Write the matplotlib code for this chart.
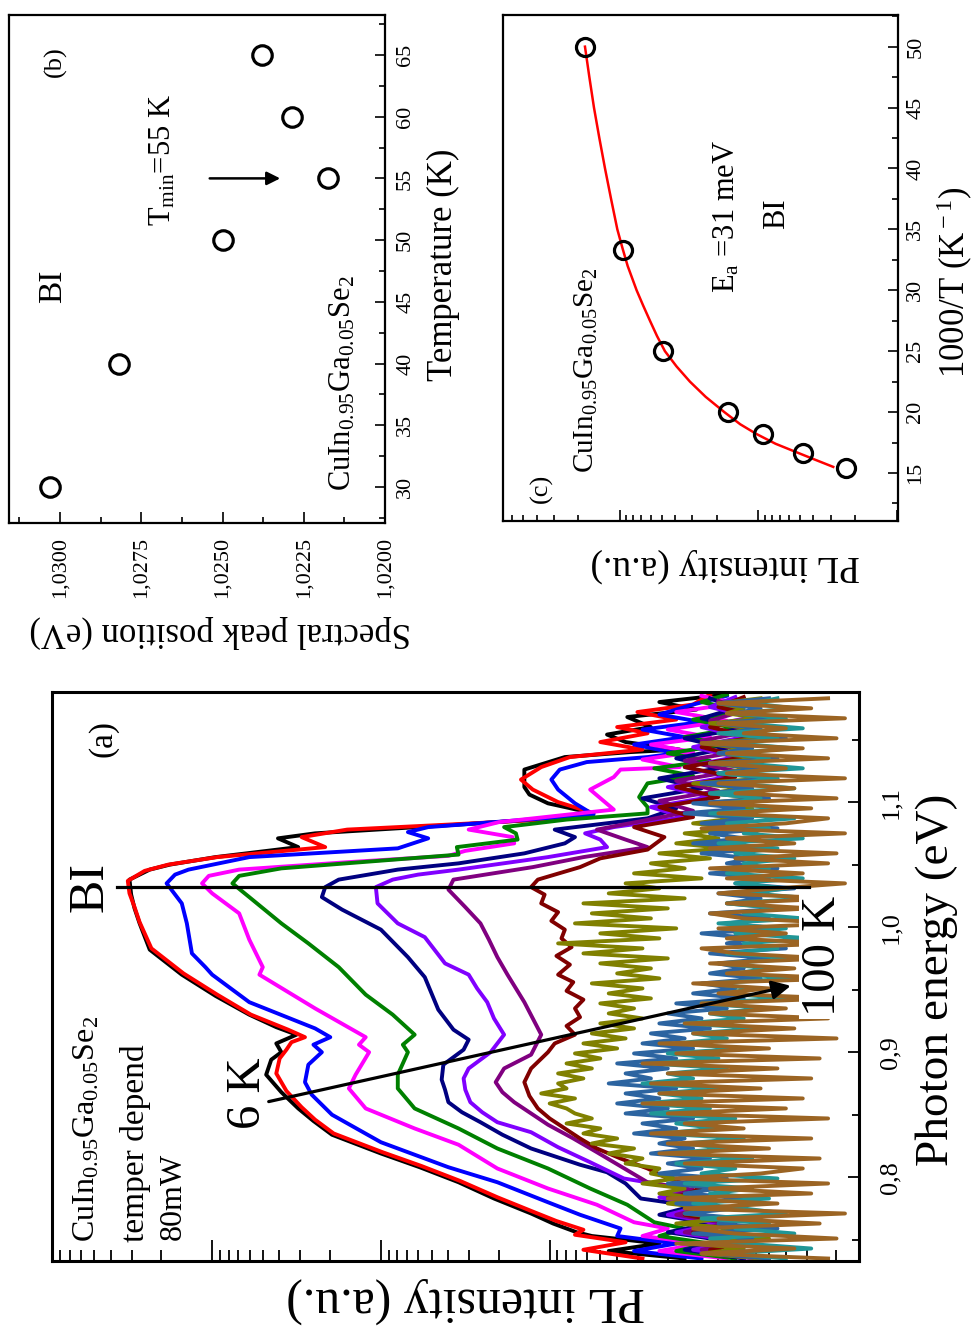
import numpy as np
import matplotlib
matplotlib.use("Agg")
import matplotlib.pyplot as plt
from matplotlib.ticker import LogLocator, NullFormatter

plt.rcParams['font.family'] = ['Liberation Serif', 'DejaVu Serif']
plt.rcParams['mathtext.fontset'] = 'custom'
plt.rcParams['mathtext.rm'] = 'Liberation Serif'
plt.rcParams['mathtext.it'] = 'Liberation Serif:italic'
plt.rcParams['mathtext.bf'] = 'Liberation Serif:bold'

# ---------------- data: panel (a), PL spectra (log10 of intensity) ----------------
e_6 = [0.735, 0.741, 0.747, 0.753, 0.756, 0.763, 0.771, 0.783, 0.796, 0.808, 0.819, 0.834, 0.845,
       0.855, 0.868, 0.882, 0.894, 0.900, 0.907, 0.914, 0.920, 0.930, 0.945, 0.962, 0.982, 1.003,
       1.015, 1.026, 1.038, 1.046, 1.050, 1.056, 1.064, 1.071, 1.075, 1.082, 1.088, 1.091, 1.099,
       1.106, 1.112, 1.126, 1.136, 1.140, 1.142, 1.148, 1.154, 1.160, 1.168, 1.174, 1.180, 1.186]
lg_6 = [1.20, 1.65, 1.35, 1.75, 1.84, 1.98, 2.11, 2.33, 2.54, 2.77, 3.00, 3.29, 3.40,
        3.49, 3.59, 3.68, 3.65, 3.59, 3.62, 3.50, 3.62, 3.78, 3.98, 4.18, 4.37, 4.43,
        4.46, 4.48, 4.49, 4.37, 4.25, 3.98, 3.49, 3.61, 3.39, 2.54, 1.85, 1.74, 2.01,
        2.12, 2.15, 2.15, 1.91, 1.52, 1.23, 1.55, 1.66, 1.40, 1.54, 1.13, 1.35, 0.95]

e_10 = [0.735, 0.742, 0.748, 0.754, 0.758, 0.765, 0.772, 0.784, 0.797, 0.809, 0.820, 0.835, 0.846,
        0.856, 0.869, 0.883, 0.895, 0.902, 0.908, 0.912, 0.918, 0.930, 0.946, 0.963, 0.983, 1.004,
        1.016, 1.027, 1.037, 1.045, 1.050, 1.056, 1.064, 1.072, 1.078, 1.082, 1.087, 1.092, 1.100,
        1.110, 1.118, 1.128, 1.136, 1.142, 1.148, 1.155, 1.160, 1.166, 1.172, 1.178, 1.186]
lg_10 = [1.45, 1.80, 1.55, 1.85, 1.80, 1.96, 2.09, 2.31, 2.53, 2.76, 2.99, 3.28, 3.39,
         3.47, 3.56, 3.62, 3.60, 3.56, 3.53, 3.45, 3.55, 3.77, 3.97, 4.17, 4.36, 4.43,
         4.46, 4.49, 4.50, 4.40, 4.26, 3.97, 3.33, 3.47, 3.20, 2.60, 1.90, 1.76, 1.95,
         2.10, 2.17, 2.05, 1.88, 1.45, 1.70, 1.42, 1.60, 1.25, 1.48, 1.15, 1.05]

e_15 = [0.735, 0.741, 0.747, 0.753, 0.759, 0.770, 0.780, 0.796, 0.808, 0.828, 0.850, 0.866, 0.876,
        0.890, 0.900, 0.906, 0.912, 0.919, 0.940, 0.962, 0.968, 0.979, 1.003, 1.019, 1.035, 1.042,
        1.046, 1.056, 1.063, 1.071, 1.076, 1.080, 1.090, 1.099, 1.110, 1.118, 1.126, 1.132, 1.136,
        1.139, 1.146, 1.152, 1.158, 1.164, 1.170, 1.178, 1.185]
lg_15 = [1.10, 1.50, 1.25, 1.60, 1.58, 1.82, 2.01, 2.31, 2.60, 3.00, 3.29, 3.41, 3.45,
         3.43, 3.35, 3.40, 3.30, 3.39, 3.78, 4.00, 4.04, 4.12, 4.15, 4.18, 4.27, 4.22,
         4.14, 3.78, 2.90, 2.72, 2.84, 2.72, 1.74, 1.85, 1.95, 1.99, 1.94, 1.78, 1.42,
         1.25, 1.50, 1.20, 1.45, 1.10, 1.35, 1.15, 0.95]

e_20 = [0.735, 0.741, 0.747, 0.753, 0.759, 0.764, 0.778, 0.791, 0.807, 0.826, 0.839, 0.855, 0.871,
        0.882, 0.900, 0.906, 0.912, 0.935, 0.962, 0.968, 0.990, 1.011, 1.027, 1.035, 1.041, 1.046,
        1.052, 1.057, 1.061, 1.067, 1.072, 1.078, 1.084, 1.094, 1.110, 1.120, 1.126, 1.128, 1.134,
        1.140, 1.146, 1.152, 1.158, 1.165, 1.172, 1.179, 1.185]
lg_20 = [0.95, 1.35, 1.10, 1.45, 1.30, 1.50, 1.72, 2.01, 2.31, 2.54, 2.80, 3.09, 3.19,
         3.15, 3.07, 3.13, 3.09, 3.39, 3.72, 3.70, 3.78, 3.84, 4.00, 4.06, 4.02, 3.84,
         3.19, 2.60, 2.50, 2.21, 2.22, 2.48, 2.30, 1.62, 1.76, 1.62, 1.58, 1.23, 1.45,
         1.15, 1.40, 1.05, 1.30, 0.95, 1.25, 0.90, 1.10]

e_25 = [0.735, 0.741, 0.747, 0.753, 0.759, 0.764, 0.778, 0.791, 0.807, 0.823, 0.839, 0.855, 0.871,
        0.882, 0.900, 0.906, 0.914, 0.930, 0.946, 0.968, 0.987, 1.003, 1.024, 1.035, 1.041, 1.047,
        1.058, 1.064, 1.070, 1.075, 1.080, 1.086, 1.091, 1.096, 1.104, 1.115, 1.121, 1.127, 1.133,
        1.139, 1.146, 1.152, 1.159, 1.166, 1.173, 1.180, 1.186]
lg_25 = [0.90, 1.25, 1.05, 1.35, 1.20, 1.38, 1.54, 1.76, 2.01, 2.31, 2.54, 2.80, 2.90,
         2.90, 2.84, 2.87, 2.80, 2.93, 3.09, 3.25, 3.43, 3.59, 3.78, 3.88, 3.84, 3.59,
         2.54, 2.55, 2.19, 2.20, 2.27, 1.90, 1.42, 1.42, 1.47, 1.42, 1.15, 1.38, 1.05,
         1.30, 0.95, 1.20, 0.90, 1.15, 0.85, 1.10, 0.95]

e_30 = [0.735, 0.742, 0.749, 0.756, 0.763, 0.770, 0.777, 0.783, 0.795, 0.804, 0.810, 0.823, 0.834,
        0.844, 0.852, 0.860, 0.870, 0.878, 0.890, 0.902, 0.910, 0.918, 0.934, 0.947, 0.960, 0.976,
        0.998, 1.014, 1.024, 1.032, 1.038, 1.046, 1.051, 1.059, 1.067, 1.072, 1.078, 1.087, 1.095,
        1.103, 1.111, 1.119, 1.127, 1.135, 1.143, 1.151, 1.159, 1.167, 1.175, 1.183]
lg_30 = [0.85, 1.20, 0.95, 1.30, 1.05, 1.35, 1.15, 1.46, 1.55, 1.66, 1.82, 2.11, 2.28,
         2.41, 2.52, 2.60, 2.62, 2.64, 2.63, 2.51, 2.48, 2.57, 2.66, 2.70, 2.74, 2.84,
         3.00, 3.23, 3.35, 3.33, 3.25, 2.90, 2.54, 2.15, 1.91, 1.85, 1.97, 1.42, 1.25,
         1.45, 1.10, 1.35, 1.00, 1.25, 0.95, 1.20, 0.85, 1.10, 0.90, 1.05]

e_40 = [0.735, 0.742, 0.749, 0.756, 0.763, 0.770, 0.777, 0.784, 0.791, 0.799, 0.812, 0.824, 0.836,
        0.844, 0.852, 0.860, 0.870, 0.879, 0.887, 0.900, 0.914, 0.927, 0.940, 0.951, 0.962, 0.971,
        0.992, 1.003, 1.019, 1.032, 1.038, 1.042, 1.046, 1.056, 1.064, 1.070, 1.075, 1.080, 1.088,
        1.096, 1.104, 1.112, 1.120, 1.128, 1.136, 1.144, 1.152, 1.160, 1.168, 1.176, 1.184]
lg_40 = [0.80, 1.15, 0.90, 1.25, 1.00, 1.30, 1.10, 1.35, 1.20, 1.56, 1.76, 1.95, 2.11,
         2.31, 2.40, 2.47, 2.50, 2.51, 2.48, 2.35, 2.27, 2.33, 2.37, 2.43, 2.48, 2.62,
         2.74, 2.90, 3.02, 3.03, 2.93, 2.78, 2.54, 2.01, 1.66, 1.70, 1.79, 1.62, 1.20,
         1.40, 1.05, 1.30, 0.95, 1.20, 0.90, 1.15, 0.85, 1.10, 0.80, 1.05, 0.90]

e_50 = [0.735, 0.742, 0.749, 0.756, 0.763, 0.770, 0.777, 0.784, 0.790, 0.796, 0.808, 0.820, 0.831,
        0.842, 0.851, 0.860, 0.868, 0.876, 0.887, 0.898, 0.906, 0.914, 0.927, 0.940, 0.951, 0.962,
        0.976, 0.990, 1.003, 1.016, 1.030, 1.038, 1.048, 1.056, 1.064, 1.070, 1.078, 1.085, 1.093,
        1.101, 1.109, 1.117, 1.125, 1.133, 1.141, 1.149, 1.157, 1.165, 1.173, 1.181]
lg_50 = [0.75, 1.10, 0.85, 1.20, 0.95, 1.25, 1.05, 1.30, 1.15, 1.42, 1.57, 1.72, 1.86,
         2.01, 2.11, 2.21, 2.28, 2.32, 2.27, 2.11, 2.08, 2.05, 2.10, 2.15, 2.20, 2.25,
         2.31, 2.36, 2.41, 2.50, 2.60, 2.57, 2.10, 1.80, 1.42, 1.55, 1.72, 1.45, 1.15,
         1.35, 1.00, 1.25, 0.90, 1.20, 0.85, 1.10, 0.80, 1.05, 0.85, 1.00]

e_55 = [0.735, 0.742, 0.749, 0.756, 0.763, 0.770, 0.777, 0.784, 0.791, 0.799, 0.807, 0.815, 0.823,
        0.831, 0.839, 0.847, 0.855, 0.865, 0.876, 0.887, 0.900, 0.907, 0.914, 0.921, 0.928, 0.935,
        0.942, 0.949, 0.956, 0.962, 0.970, 0.977, 0.984, 0.991, 0.998, 1.005, 1.012, 1.019, 1.026,
        1.032, 1.038, 1.048, 1.055, 1.062, 1.072, 1.080, 1.088, 1.096, 1.104, 1.112, 1.120, 1.128,
        1.136, 1.144, 1.152, 1.160, 1.168, 1.176, 1.184]
lg_55 = [0.70, 1.05, 0.80, 1.15, 0.90, 1.20, 1.00, 1.25, 1.10, 1.30, 1.42, 1.58, 1.72,
         1.82, 1.91, 2.00, 2.07, 2.12, 2.15, 2.11, 2.01, 1.97, 1.85, 1.90, 1.82, 1.85,
         1.80, 1.90, 1.86, 1.95, 1.88, 1.96, 1.87, 1.93, 1.91, 1.99, 1.95, 2.05, 2.03,
         2.11, 2.07, 1.82, 1.70, 1.42, 1.32, 1.50, 1.15, 1.35, 1.00, 1.25, 0.90, 1.20,
         0.85, 1.10, 0.80, 1.05, 0.75, 1.00, 0.85]

# noisy high temperature spectra on the detector grid (0.735 ... 1.183 eV, step 4 meV)
e_grid = np.round(np.arange(0.735, 1.1831, 0.004), 3)
lg_60 = [0.75, 1.10, 0.85, 1.15, 0.70, 1.05, 0.90, 1.25, 0.95, 1.20,
         1.05, 1.30, 1.10, 1.35, 1.20, 1.45, 1.25, 1.40, 1.35, 1.55,
         1.45, 1.65, 1.50, 1.75, 1.60, 1.80, 1.70, 1.90, 1.75, 1.85,
         1.90, 2.00, 1.85, 2.05, 1.90, 1.95, 1.80, 1.95, 1.75, 1.90,
         1.70, 1.85, 1.60, 1.80, 1.55, 1.75, 1.50, 1.70, 1.45, 1.65,
         1.50, 1.70, 1.40, 1.65, 1.45, 1.75, 1.35, 1.60, 1.40, 1.70,
         1.30, 1.80, 1.45, 1.95, 1.35, 1.70, 1.25, 1.85, 1.40, 1.75,
         1.30, 1.80, 1.20, 1.65, 1.35, 1.55, 1.10, 1.50, 1.20, 1.40,
         1.05, 1.35, 0.95, 1.25, 1.00, 1.20, 0.85, 1.15, 0.90, 1.10,
         0.80, 1.10, 0.75, 1.05, 0.85, 1.15, 0.70, 1.00, 0.80, 1.05,
         0.75, 1.00, 0.85, 1.10, 0.70, 0.95, 0.80, 1.05, 0.75, 0.95,
         0.85, 1.00, 0.75]
lg_70 = [0.70, 1.05, 0.55, 0.95, 0.80, 1.15, 0.65, 1.00, 0.85, 1.20,
         0.90, 1.25, 0.80, 1.20, 1.00, 1.30, 0.95, 1.35, 1.10, 1.30,
         1.05, 1.40, 1.15, 1.35, 1.20, 1.50, 1.25, 1.45, 1.15, 1.55,
         1.30, 1.60, 1.35, 1.55, 1.25, 1.65, 1.40, 1.55, 1.30, 1.60,
         1.25, 1.50, 1.15, 1.45, 1.20, 1.40, 1.05, 1.35, 1.10, 1.30,
         0.95, 1.25, 0.85, 1.15, 0.90, 1.10, 0.75, 1.05, 0.85, 1.00,
         0.70, 1.05, 0.60, 0.95, 0.80, 1.10, 0.65, 0.95, 0.70, 1.05,
         0.60, 0.95, 0.75, 1.00, 0.55, 0.90, 0.70, 1.05, 0.65, 0.95,
         0.80, 1.10, 0.70, 1.15, 0.85, 1.05, 0.65, 1.10, 0.80, 1.20,
         0.85, 1.15, 0.70, 1.05, 0.80, 1.10, 0.65, 1.00, 0.75, 1.05,
         0.65, 1.00, 0.80, 1.05, 0.60, 0.95, 0.75, 1.00, 0.65, 0.90,
         0.75, 1.00, 0.70]
lg_80 = [0.60, 0.95, 0.45, 0.85, 1.05, 0.55, 0.90, 0.70, 1.10, 0.60,
         0.85, 1.15, 0.70, 1.05, 0.80, 1.20, 0.65, 1.10, 0.90, 1.25,
         0.80, 1.30, 0.95, 1.20, 0.85, 1.35, 1.00, 1.25, 0.90, 1.40,
         1.05, 1.45, 1.10, 1.35, 1.00, 1.45, 1.15, 1.30, 0.95, 1.40,
         1.00, 1.30, 0.85, 1.25, 0.95, 1.15, 0.75, 1.20, 0.85, 1.05,
         0.70, 1.10, 0.60, 0.95, 0.80, 1.05, 0.55, 0.90, 0.70, 1.00,
         0.50, 0.95, 0.65, 0.85, 0.45, 0.90, 0.60, 1.00, 0.50, 0.85,
         0.65, 0.95, 0.45, 0.80, 0.60, 0.90, 0.50, 0.95, 0.70, 0.85,
         0.55, 0.90, 0.65, 1.00, 0.50, 0.85, 0.70, 0.95, 0.55, 1.05,
         0.60, 0.95, 0.75, 1.05, 0.55, 0.90, 0.65, 1.00, 0.50, 0.85,
         0.70, 0.95, 0.55, 0.90, 0.65, 1.00, 0.50, 0.85, 0.60, 0.90,
         0.55, 0.80, 0.65]
lg_100 = [0.35, 1.10, 0.55, 1.25, 0.30, 0.90, 1.15, 0.40, 1.00, 0.25,
          1.20, 0.65, 1.30, 0.45, 1.05, 0.35, 1.25, 0.75, 0.50, 1.20,
          0.40, 1.35, 0.70, 1.30, 0.45, 1.40, 0.85, 1.20, 0.35, 1.30,
          0.60, 1.45, 0.50, 1.35, 0.75, 1.40, 0.45, 1.30, 0.65, 1.45,
          0.40, 1.25, 0.70, 1.35, 0.30, 1.15, 0.55, 1.20, 0.35, 1.05,
          0.60, 1.10, 0.30, 1.00, 0.70, 1.15, 0.25, 0.95, 0.55, 1.05,
          0.35, 0.90, 1.10, 0.30, 0.95, 0.60, 1.00, 0.25, 0.85, 1.05,
          0.45, 0.95, 0.30, 1.00, 0.65, 0.25, 0.95, 0.50, 1.05, 0.35,
          0.90, 0.30, 1.05, 0.55, 0.95, 0.25, 1.10, 0.60, 0.35, 1.00,
          0.45, 1.05, 0.30, 0.90, 0.55, 1.00, 0.25, 0.95, 0.60, 1.05,
          0.35, 0.95, 0.50, 1.10, 0.30, 0.85, 0.60, 1.00, 0.25, 0.95,
          0.45, 1.00, 0.35]

spectra = [
    (e_6, lg_6, '#000000'), (e_10, lg_10, '#FF0000'), (e_15, lg_15, '#0000FF'),
    (e_20, lg_20, '#FF00FF'), (e_25, lg_25, '#008000'), (e_30, lg_30, '#000080'),
    (e_40, lg_40, '#8000FF'), (e_50, lg_50, '#800080'), (e_55, lg_55, '#800000'),
    (e_grid, lg_60, '#808000'), (e_grid, lg_70, '#2C64A0'), (e_grid, lg_80, '#209696'),
    (e_grid, lg_100, '#9B6423'),
]

# ---------------- data: panel (b) ----------------
temps_b = [30, 40, 50, 55, 60, 65]
peak_b = [1.03031, 1.02818, 1.02498, 1.02176, 1.02287, 1.02379]

# ---------------- data: panel (c) ----------------
temps_c = [20, 30, 40, 50, 55, 60, 65]
pl_c = [1791, 956, 486, 165, 92, 47.3, 23.2]
fit_invT = [50, 47.5, 45, 42.5, 40, 37.5, 35, 33.4, 32, 30, 28.75, 27.5, 26.25, 25,
            23.75, 22.5, 21.25, 20, 19, 18.2, 17.4, 16.7, 16.1, 15.5]
fit_pl = [1791, 1665, 1542, 1410, 1283, 1160, 1045, 956, 880, 758, 680, 607, 540, 473,
          390, 312, 240, 176, 135, 103, 75, 52.8, 39, 28.7]


def fx(x):
    return x / 977.0


def fy(y):
    return 1 - y / 1326.0


fig = plt.figure(figsize=(9.77, 13.26), dpi=100)

# ================= panel (a) =================
ax_a = fig.add_axes([0.0529, 0.049, 0.8263, 0.4291])
for e, lg, c in spectra:
    ax_a.plot(10 ** np.asarray(lg), e, color=c, lw=2.8, zorder=2)

ax_a.set_xscale('log')
ax_a.set_xlim(10 ** 4.951, 10 ** 0.167)
ax_a.set_ylim(0.733, 1.188)

ax_a.plot([10 ** 4.566, 10 ** 0.466], [1.032, 1.032], color='k', lw=2.3, zorder=4)
ax_a.annotate('', xy=(10 ** 0.555, 0.9536), xytext=(10 ** 3.681, 0.86),
              arrowprops=dict(arrowstyle='-|>', color='k', lw=2.3, mutation_scale=28),
              zorder=4)

ax_a.xaxis.set_major_locator(LogLocator(base=10, numticks=15))
ax_a.xaxis.set_minor_locator(LogLocator(base=10, subs=np.arange(2, 10), numticks=15))
ax_a.xaxis.set_major_formatter(NullFormatter())
ax_a.xaxis.set_minor_formatter(NullFormatter())
ax_a.tick_params(axis='x', which='major', direction='in', length=15, width=1.3,
                 bottom=True, top=False)
ax_a.tick_params(axis='x', which='minor', direction='in', length=8, width=1.3,
                 bottom=True, top=False)

ax_a.yaxis.tick_right()
ax_a.set_yticks([0.8, 0.9, 1.0, 1.1], labels=['0,8', '0,9', '1,0', '1,1'])
ax_a.set_yticks([0.75, 0.85, 0.95, 1.05, 1.15], minor=True)
ax_a.tick_params(axis='y', which='both', direction='in', left=False, right=True, width=1.3)
ax_a.tick_params(axis='y', which='major', length=8, labelsize=19, pad=15, labelrotation=90)
ax_a.tick_params(axis='y', which='minor', length=5)
for lbl in ax_a.get_yticklabels():
    lbl.set_va('center')
for s in ax_a.spines.values():
    s.set_linewidth(2.2)

rot = dict(rotation=90, ha='center', va='center', transform=ax_a.transAxes)
ax_a.text(0.0636, 0.919, '(a)', fontsize=24, **rot)
ax_a.text(0.0475, 0.657, 'BI', fontsize=36, **rot)
ax_a.text(0.243, 0.295, '6 K', fontsize=35, **rot)
ax_a.text(0.956, 0.536, '100 K', fontsize=35, zorder=6,
          bbox=dict(facecolor='white', edgecolor='none', pad=2), **rot)
ax_a.text(0.044, 0.033, r'CuIn$_{0.95}$Ga$_{0.05}$Se$_2$', fontsize=23, rotation=90,
          ha='center', va='bottom', transform=ax_a.transAxes)
ax_a.text(0.1035, 0.033, 'temper depend', fontsize=24, rotation=90,
          ha='center', va='bottom', transform=ax_a.transAxes)
ax_a.text(0.150, 0.037, '80mW', fontsize=23, rotation=90,
          ha='center', va='bottom', transform=ax_a.transAxes)

fig.text(fx(466), fy(1300), 'PL intensity (a.u.)', rotation=180, ha='center', va='center',
         fontsize=36)
fig.text(fx(937), fy(980), 'Photon energy (eV)', rotation=90, ha='center', va='center',
         fontsize=34)

# ================= panel (b) =================
ax_b = fig.add_axes([0.0092, 0.6056, 0.3849, 0.3831])
ax_b.plot(peak_b, temps_b, 'o', mfc='none', mec='k', ms=14, mew=2.3)
ax_b.set_xlim(1.03157, 1.0200)
ax_b.set_ylim(27.08, 68.24)
ax_b.annotate('', xy=(1.02314, 55), xytext=(1.02548, 55),
              arrowprops=dict(arrowstyle='-|>', color='k', lw=1.8, mutation_scale=20))

ax_b.set_xticks([1.0300, 1.0275, 1.0250, 1.0225, 1.0200],
                labels=['1,0300', '1,0275', '1,0250', '1,0225', '1,0200'])
ax_b.set_xticks([1.03125, 1.02875, 1.02625, 1.02375, 1.02125], minor=True)
ax_b.tick_params(axis='x', which='both', direction='in', bottom=True, top=False, width=1.2)
ax_b.tick_params(axis='x', which='major', length=8, labelsize=16, pad=10, labelrotation=90)
ax_b.tick_params(axis='x', which='minor', length=4.5)

ax_b.yaxis.tick_right()
ax_b.set_yticks([30, 35, 40, 45, 50, 55, 60, 65])
ax_b.set_yticks([27.5, 32.5, 37.5, 42.5, 47.5, 52.5, 57.5, 62.5, 67.5], minor=True)
ax_b.tick_params(axis='y', which='both', direction='in', left=False, right=True, width=1.2)
ax_b.tick_params(axis='y', which='major', length=7, labelsize=16, pad=8, labelrotation=90)
ax_b.tick_params(axis='y', which='minor', length=4)
for lbl in ax_b.get_yticklabels():
    lbl.set_va('center')
for s in ax_b.spines.values():
    s.set_linewidth(1.6)

rot_b = dict(rotation=90, ha='center', va='center', transform=ax_b.transAxes)
ax_b.text(0.122, 0.909, '(b)', fontsize=19, **rot_b)
ax_b.text(0.117, 0.466, 'BI', fontsize=24, **rot_b)
ax_b.text(0.41, 0.714, r'T$_{\rm min}$=55 K', fontsize=22, **rot_b)
ax_b.text(0.888, 0.063, r'CuIn$_{0.95}$Ga$_{0.05}$Se$_2$', fontsize=22, rotation=90,
          ha='center', va='bottom', transform=ax_b.transAxes)

fig.text(fx(220), fy(632), 'Spectral peak position (eV)', rotation=180, ha='center',
         va='center', fontsize=25)
fig.text(fx(443), fy(265), 'Temperature (K)', rotation=90, ha='center', va='center',
         fontsize=25)

# ================= panel (c) =================
ax_c = fig.add_axes([0.5148, 0.6071, 0.4043, 0.3816])
ax_c.plot(fit_pl, fit_invT, color='#FF0000', lw=1.8, zorder=2)
ax_c.plot(pl_c, 1000.0 / np.array(temps_c), 'o', mfc='none', mec='k', ms=13, mew=2.3,
          zorder=3)
ax_c.set_xscale('log')
ax_c.set_xlim(7017, 9.77)
ax_c.set_ylim(11.06, 52.6)

ax_c.xaxis.set_major_locator(LogLocator(base=10, numticks=15))
ax_c.xaxis.set_minor_locator(LogLocator(base=10, subs=np.arange(2, 10), numticks=15))
ax_c.xaxis.set_major_formatter(NullFormatter())
ax_c.xaxis.set_minor_formatter(NullFormatter())
ax_c.tick_params(axis='x', which='major', direction='in', length=8, width=1.2,
                 bottom=True, top=False)
ax_c.tick_params(axis='x', which='minor', direction='in', length=4, width=1.2,
                 bottom=True, top=False)

ax_c.yaxis.tick_right()
ax_c.set_yticks([15, 20, 25, 30, 35, 40, 45, 50])
ax_c.set_yticks([12.5, 17.5, 22.5, 27.5, 32.5, 37.5, 42.5, 47.5, 52.5], minor=True)
ax_c.tick_params(axis='y', which='both', direction='in', left=False, right=True, width=1.2)
ax_c.tick_params(axis='y', which='major', length=7, labelsize=16, pad=6, labelrotation=90)
ax_c.tick_params(axis='y', which='minor', length=4)
for lbl in ax_c.get_yticklabels():
    lbl.set_va('center')
for s in ax_c.spines.values():
    s.set_linewidth(1.6)

rot_c = dict(rotation=90, ha='center', va='center', transform=ax_c.transAxes)
ax_c.text(0.098, 0.065, '(c)', fontsize=19, **rot_c)
ax_c.text(0.693, 0.607, 'BI', fontsize=22, **rot_c)
ax_c.text(0.212, 0.095, r'CuIn$_{0.95}$Ga$_{0.05}$Se$_2$', fontsize=21, rotation=90,
          ha='center', va='bottom', transform=ax_c.transAxes)
ax_c.text(0.566, 0.45, r'E$_{\rm a}$ =31 meV', fontsize=22, rotation=90,
          ha='center', va='bottom', transform=ax_c.transAxes)

fig.text(fx(725), fy(565), 'PL intensity (a.u.)', rotation=180, ha='center', va='center',
         fontsize=27)
fig.text(fx(955), fy(282), r'1000/T (K$^{\rm -1}$)', rotation=90, ha='center', va='center',
         fontsize=25)

fig.savefig('out.png', dpi=100)
